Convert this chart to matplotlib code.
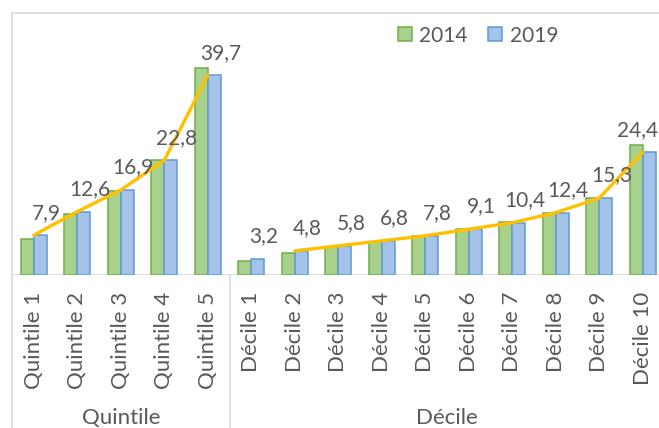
import numpy as np
import matplotlib
matplotlib.use("Agg")
import matplotlib.pyplot as plt
from matplotlib.lines import Line2D
import matplotlib.transforms as mtransforms

plt.rcParams['font.family'] = ['Lato', 'DejaVu Sans']

categories = ["Quintile 1", "Quintile 2", "Quintile 3", "Quintile 4", "Quintile 5",
              "Décile 1", "Décile 2", "Décile 3", "Décile 4", "Décile 5",
              "Décile 6", "Décile 7", "Décile 8", "Décile 9", "Décile 10"]
groups = ["Quintile", "Décile"]
group_sizes = [5, 10]
values_2014 = [7.2, 12.1, 16.7, 22.8, 41.1, 2.8, 4.4, 5.5, 6.5, 7.7, 9.1, 10.5, 12.4, 15.3, 25.9]
values_2019 = [7.9, 12.6, 16.9, 22.8, 39.7, 3.2, 4.8, 5.8, 6.8, 7.8, 9.1, 10.4, 12.4, 15.3, 24.4]
series_names = ["2014", "2019"]

W, H = 659, 428
fig = plt.figure(figsize=(W / 100, H / 100), dpi=100)
ax = fig.add_axes([12 / W, (H - 275) / H, 652.5 / W, 262 / H])

x = np.arange(len(categories))
w = 0.3
txt = "#595959"
grid = "#D9D9D9"

ax.bar(x - w / 2, values_2014, width=w, color="#A9D18E", edgecolor="#70AD47",
       linewidth=1.1, label=series_names[0], zorder=2)
ax.bar(x + w / 2, values_2019, width=w, color="#A5C3E8", edgecolor="#5B9BD5",
       linewidth=1.1, label=series_names[1], zorder=2)

v19 = np.array(values_2019)
ax.plot(x[:5], v19[:5], color="#FFC000", lw=2.4, zorder=3, solid_capstyle="round")
ax.plot(x[6:], v19[6:], color="#FFC000", lw=2.4, zorder=3, solid_capstyle="round")

labels = []
for xi, v in zip(x, values_2019):
    labels.append(ax.annotate(f"{v:.1f}".replace(".", ","), (xi, v), xytext=(9, 12),
                              textcoords="offset points", ha="center", va="baseline",
                              fontsize=15, color=txt, zorder=4))

ax.set_xlim(-0.5, len(categories) - 0.5)
ax.set_ylim(0, 262 / 5.03)
for s in ax.spines.values():
    s.set_visible(False)
ax.set_yticks([])
ax.set_xticks(x, categories, rotation=90, fontsize=16, color=txt, va="top")
ax.tick_params(axis="x", length=0, pad=12)
ax.axhline(0, color=grid, lw=1.2, zorder=1)

# separators between groups
trans = mtransforms.blended_transform_factory(ax.transData, fig.transFigure)
bounds = np.cumsum([0] + group_sizes) - 0.5
for b in bounds[1:-1]:
    ax.add_line(Line2D([b, b], [0, (H - 275) / H], transform=trans, color=grid,
                       lw=1.2, clip_on=False))
start = 0
for g, n in zip(groups, group_sizes):
    cx = start + (n - 1) / 2
    ax.text(cx, (H - 424) / H, g, transform=trans, ha="center", va="baseline",
            fontsize=16, color=txt)
    start += n

# chart border (left and top)
fig.add_artist(Line2D([12 / W, 12 / W], [0, (H - 13) / H], color=grid, lw=1.2))
fig.add_artist(Line2D([12 / W, 1], [(H - 13) / H, (H - 13) / H], color=grid, lw=1.2))

leg = ax.legend(loc="center", bbox_to_anchor=(478 / W, (H - 35.5) / H),
                bbox_transform=fig.transFigure, ncol=2, frameon=False,
                fontsize=15, handlelength=0.67, handleheight=0.67,
                handletextpad=0.38, columnspacing=0.96, borderpad=0)
for t in leg.get_texts():
    t.set_color(txt)

# keep data labels inside the chart area (as the original does)
fig.canvas.draw()
r = fig.canvas.get_renderer()
for lab in labels:
    bb = lab.get_window_extent(r)
    if bb.x1 > W - 1:
        dx_pt = (bb.x1 - (W - 1)) * 72 / fig.dpi
        ox, oy = lab.xyann
        lab.xyann = (ox - dx_pt, oy)

fig.savefig("out.png", dpi=100)
